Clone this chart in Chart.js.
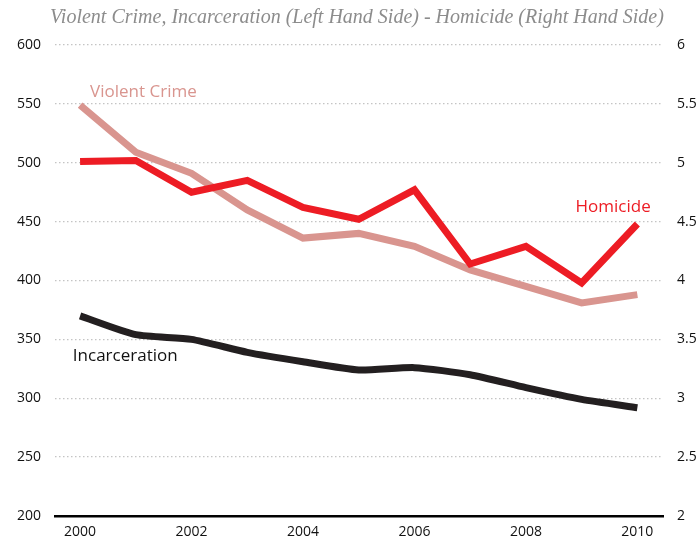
<!DOCTYPE html>
<html>
<head>
<meta charset="utf-8">
<script src="https://cdn.jsdelivr.net/npm/chart.js@4.4.1/dist/chart.umd.min.js"></script>
<style>
    html, body { margin: 0; padding: 0; background: #fff; }
    #wrap { width: 699px; height: 542px; position: relative; }
</style>
</head>
<body>
<div id="wrap"><canvas id="myChart"></canvas></div>
<script>
var anios = [2000, 2001, 2002, 2003, 2004, 2005, 2006, 2007, 2008, 2009, 2010];
var violent_crime = [549, 509, 491, 460, 436, 440, 429, 409, 395, 381, 388];
var incarceration = [370, 354, 350, 339, 331, 324, 326, 320, 309, 299, 292];
var homicide = [5.01, 5.02, 4.75, 4.85, 4.62, 4.52, 4.77, 4.14, 4.29, 3.98, 4.48];
var ticks_x = [2000, 2002, 2004, 2006, 2008, 2010];

var titulo = 'Violent Crime, Incarceration (Left Hand Side) - Homicide (Right Hand Side)';

var puntos = function (valores) {
    return valores.map(function (v, i) { return { x: anios[i], y: v }; });
};

// etiquetas de cada serie, ubicadas en coordenadas de los ejes
var etiquetas = [
    { texto: 'Violent Crime', x: 2000.18, y: 560, eje: 'y', color: '#d9958f' },
    { texto: 'Homicide', x: 2008.89, y: 4.62, eje: 'y1', color: '#ed1c24' },
    { texto: 'Incarceration', x: 1999.87, y: 336, eje: 'y', color: '#111' }
];

var plugin_textos = {
    id: 'textos',
    afterDatasetsDraw: function (chart) {
        var ctx = chart.ctx;
        ctx.save();
        ctx.textBaseline = 'middle';
        ctx.textAlign = 'left';
        ctx.font = '17px "Open Sans"';
        etiquetas.forEach(function (e) {
            ctx.fillStyle = e.color;
            ctx.fillText(e.texto, chart.scales.x.getPixelForValue(e.x), chart.scales[e.eje].getPixelForValue(e.y));
        });
        ctx.font = 'italic 20px "Liberation Serif"';
        ctx.fillStyle = '#8c8c8c';
        ctx.textAlign = 'center';
        ctx.fillText(titulo, 357, 18);
        ctx.restore();
    }
};

var ctx = document.getElementById('myChart');
var myChart = new Chart(ctx, {
    type: 'line',
    data: {
        datasets: [
            {
                label: 'Violent Crime',
                data: puntos(violent_crime),
                yAxisID: 'y',
                borderColor: '#d9958f',
                borderWidth: 7,
                pointRadius: 0,
                order: 3
            },
            {
                label: 'Homicide',
                data: puntos(homicide),
                yAxisID: 'y1',
                borderColor: '#ed1c24',
                borderWidth: 7,
                pointRadius: 0,
                order: 1
            },
            {
                label: 'Incarceration',
                data: puntos(incarceration),
                yAxisID: 'y',
                borderColor: '#231f20',
                borderWidth: 7,
                pointRadius: 0,
                tension: 0.2,
                order: 2
            }
        ]
    },
    plugins: [plugin_textos],
    options: {
        responsive: true,
        maintainAspectRatio: false,
        animation: false,
        layout: { padding: { top: 45, left: 0, right: 0, bottom: 0 } },
        plugins: {
            legend: { display: false },
            tooltip: { enabled: false }
        },
        scales: {
            x: {
                type: 'linear',
                min: 1999.55,
                max: 2010.46,
                afterBuildTicks: function (scale) {
                    scale.ticks = ticks_x.map(function (v) { return { value: v }; });
                },
                afterFit: function (scale) { scale.height = 26; },
                grid: { display: false, drawTicks: false },
                border: { display: true, color: '#000', width: 2.5 },
                ticks: {
                    padding: 8,
                    color: '#111',
                    font: { family: 'Open Sans', size: 14 },
                    callback: function (v) { return String(v); }
                }
            },
            y: {
                position: 'left',
                min: 200,
                max: 600,
                afterFit: function (scale) { scale.width = 55; },
                grid: { color: '#c4c4c4', lineWidth: 1.3, drawTicks: false },
                border: { display: false, dash: [1.5, 2.5] },
                ticks: {
                    stepSize: 50,
                    padding: 14,
                    color: '#111',
                    font: { family: 'Open Sans', size: 14 }
                }
            },
            y1: {
                position: 'right',
                min: 2,
                max: 6,
                afterFit: function (scale) { scale.width = 36; },
                grid: { display: false, drawTicks: false },
                border: { display: false },
                ticks: {
                    stepSize: 0.5,
                    padding: 14,
                    color: '#111',
                    font: { family: 'Open Sans', size: 14 },
                    callback: function (v) { return String(v); }
                }
            }
        }
    }
});
</script>
</body>
</html>
